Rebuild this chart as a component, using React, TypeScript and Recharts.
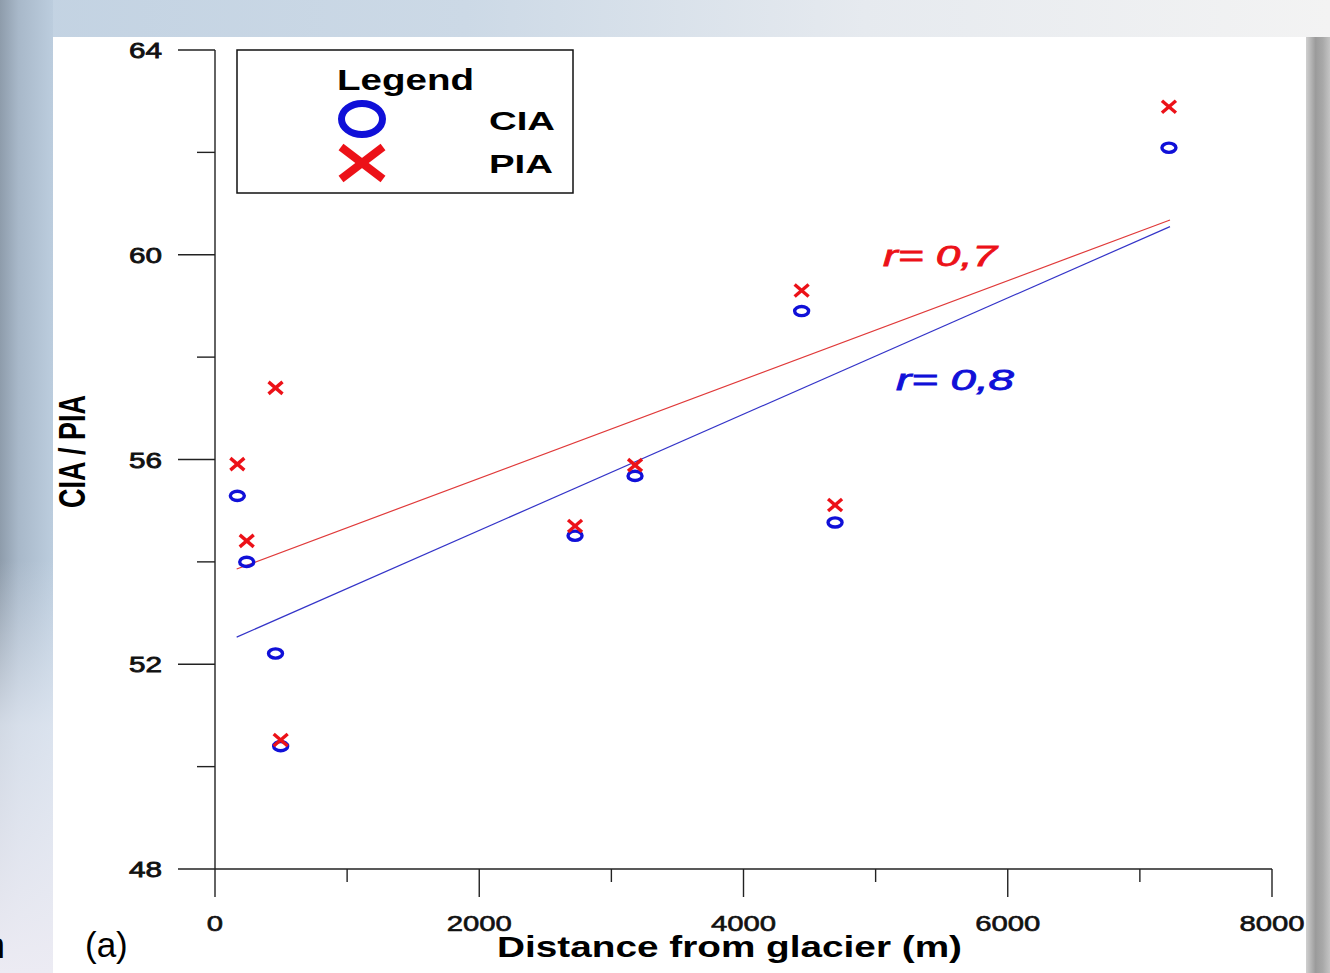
import { ReferenceLine, Scatter, ScatterChart, XAxis, YAxis } from "recharts";

// distance from glacier (m) of each sample
const distances = [169, 240, 458, 497, 2725, 3179, 4440, 4693, 7220];
const ciaValues = [55.29, 54.0, 52.21, 50.4, 54.51, 55.68, 58.9, 54.77, 62.09];
const piaValues = [55.91, 54.41, 57.4, 50.52, 54.7, 55.89, 59.3, 55.11, 62.89];

// fitted lines, read at both ends
const fitX = [164, 7228];
const ciaFit = [52.53, 60.55];
const piaFit = [53.86, 60.68];

const xTicks = [0, 1000, 2000, 3000, 4000, 5000, 6000, 7000, 8000];
const yTicks = [48, 50, 52, 54, 56, 58, 60, 62, 64];

const RED = "#ec1118";
const BLUE = "#1010d8";
const FONT = "'Liberation Sans', Arial, Helvetica, sans-serif";

const ciaData = distances.map((x, i) => ({ x, y: ciaValues[i] }));
const piaData = distances.map((x, i) => ({ x, y: piaValues[i] }));

function CircleMark(props: any) {
  const { cx, cy } = props;
  return <ellipse cx={cx} cy={cy} rx={7} ry={4.6} fill="none" stroke={BLUE} strokeWidth={3.4} />;
}

function CrossMark(props: any) {
  const { cx, cy } = props;
  return (
    <g stroke={RED} strokeWidth={3.4}>
      <line x1={cx - 7} y1={cy - 6} x2={cx + 7} y2={cy + 6} />
      <line x1={cx - 7} y1={cy + 6} x2={cx + 7} y2={cy - 6} />
    </g>
  );
}

function YTick(props: any) {
  const { x, y, payload } = props;
  const major = (payload.value - 48) % 4 === 0;
  return (
    <g>
      <line x1={x - (major ? 37 : 18)} x2={x} y1={y} y2={y} stroke="#222" strokeWidth={1.4} />
      {major && (
        <text
          x={x - 53}
          y={y + 8}
          textAnchor="end"
          fontFamily={FONT}
          fontSize={22}
          fill="#111"
          stroke="#111"
          strokeWidth={0.8}
          textLength={33}
          lengthAdjust="spacingAndGlyphs"
        >
          {payload.value}
        </text>
      )}
    </g>
  );
}

function XTick(props: any) {
  const { x, y, payload } = props;
  const major = payload.value % 2000 === 0;
  const label = String(payload.value);
  return (
    <g>
      <line x1={x} x2={x} y1={y} y2={y + (major ? 28 : 13)} stroke="#222" strokeWidth={1.4} />
      {major && (
        <text
          x={x}
          y={y + 62}
          textAnchor="middle"
          fontFamily={FONT}
          fontSize={22}
          fill="#111"
          stroke="#111"
          strokeWidth={0.6}
          textLength={label.length * 16.3}
          lengthAdjust="spacingAndGlyphs"
        >
          {label}
        </text>
      )}
    </g>
  );
}

function Overlay() {
  return (
    <svg
      width={1330}
      height={973}
      style={{ position: "absolute", left: 0, top: 0, pointerEvents: "none" }}
      fontFamily={FONT}
    >
      {/* axis titles */}
      <text
        transform="translate(85, 451.5) rotate(-90)"
        textAnchor="middle"
        fontSize={36}
        fontWeight="bold"
        fill="#000"
        textLength={113}
        lengthAdjust="spacingAndGlyphs"
      >
        CIA / PIA
      </text>
      <text
        x={497}
        y={957}
        fontSize={30}
        fontWeight="bold"
        fill="#000"
        textLength={465}
        lengthAdjust="spacingAndGlyphs"
      >
        Distance from glacier (m)
      </text>

      {/* legend */}
      <rect x={237} y={50} width={336} height={143} fill="#fff" stroke="#111" strokeWidth={1.5} />
      <text x={337} y={90} fontSize={29} fontWeight="bold" fill="#000" textLength={137} lengthAdjust="spacingAndGlyphs">
        Legend
      </text>
      <ellipse cx={362} cy={119} rx={20.5} ry={15.5} fill="none" stroke={BLUE} strokeWidth={7} />
      <g stroke={RED} strokeWidth={8}>
        <line x1={341} y1={147} x2={383} y2={179} />
        <line x1={341} y1={179} x2={383} y2={147} />
      </g>
      <text x={489} y={130} fontSize={26} fontWeight="bold" fill="#000" textLength={66} lengthAdjust="spacingAndGlyphs">
        CIA
      </text>
      <text x={489} y={173} fontSize={26} fontWeight="bold" fill="#000" textLength={64} lengthAdjust="spacingAndGlyphs">
        PIA
      </text>

      {/* correlation notes */}
      <text
        x={883}
        y={266}
        fontSize={29}
        fontStyle="italic"
        fill={RED}
        stroke={RED}
        strokeWidth={0.8}
        textLength={114}
        lengthAdjust="spacingAndGlyphs"
      >
        r= 0,7
      </text>
      <text
        x={896}
        y={390}
        fontSize={29}
        fontStyle="italic"
        fill={BLUE}
        stroke={BLUE}
        strokeWidth={0.8}
        textLength={118}
        lengthAdjust="spacingAndGlyphs"
      >
        r= 0,8
      </text>

      <text x={85} y={957} fontSize={35} fill="#000">
        (a)
      </text>
      <text x={-15} y={958} fontSize={36} fill="#000">
        n
      </text>
    </svg>
  );
}

export default function App() {
  return (
    <div
      style={{
        position: "absolute",
        left: 0,
        top: 0,
        width: 1330,
        height: 973,
        overflow: "hidden",
        background: "linear-gradient(90deg, #c2d2e2 0%, #ccd9e6 35%, #e6eaef 65%, #f3f3f3 100%)",
      }}
    >
      {/* blurred slide edges */}
      <div
        style={{
          position: "absolute",
          left: 0,
          top: 0,
          width: 53,
          height: 973,
          background: "linear-gradient(90deg, #8e9cab 0%, #a8b8c9 35%, #bccdde 100%)",
        }}
      />
      <div
        style={{
          position: "absolute",
          left: 0,
          top: 560,
          width: 53,
          height: 413,
          background: "linear-gradient(180deg, rgba(220,228,238,0) 0%, rgba(226,232,242,0.8) 40%, #ecebf3 100%)",
        }}
      />
      <div
        style={{
          position: "absolute",
          left: 1306,
          top: 37,
          width: 24,
          height: 936,
          background: "linear-gradient(90deg, #d0d0d0 0%, #9b9b9b 40%, #a9a9a9 70%, #c4c4c4 100%)",
        }}
      />
      <div style={{ position: "absolute", left: 53, top: 37, width: 1253, height: 936, background: "#fff" }}>
        <ScatterChart width={1253} height={936} margin={{ top: 13, right: 34, left: 102, bottom: 74 }}>
          <XAxis
            type="number"
            dataKey="x"
            domain={[0, 8000]}
            ticks={xTicks}
            height={30}
            tickSize={0}
            tickMargin={0}
            tickLine={false}
            axisLine={{ stroke: "#222", strokeWidth: 1.4 }}
            tick={<XTick />}
            interval={0}
            allowDataOverflow
          />
          <YAxis
            type="number"
            dataKey="y"
            domain={[48, 64]}
            ticks={yTicks}
            width={60}
            tickSize={0}
            tickMargin={0}
            tickLine={false}
            axisLine={{ stroke: "#222", strokeWidth: 1.4 }}
            tick={<YTick />}
            interval={0}
            allowDataOverflow
          />
          <ReferenceLine
            segment={[
              { x: fitX[0], y: piaFit[0] },
              { x: fitX[1], y: piaFit[1] },
            ]}
            stroke="#e03a3a"
            strokeWidth={1.2}
          />
          <ReferenceLine
            segment={[
              { x: fitX[0], y: ciaFit[0] },
              { x: fitX[1], y: ciaFit[1] },
            ]}
            stroke="#3434c8"
            strokeWidth={1.2}
          />
          <Scatter data={ciaData} shape={<CircleMark />} isAnimationActive={false} />
          <Scatter data={piaData} shape={<CrossMark />} isAnimationActive={false} />
        </ScatterChart>
      </div>
      <Overlay />
    </div>
  );
}
